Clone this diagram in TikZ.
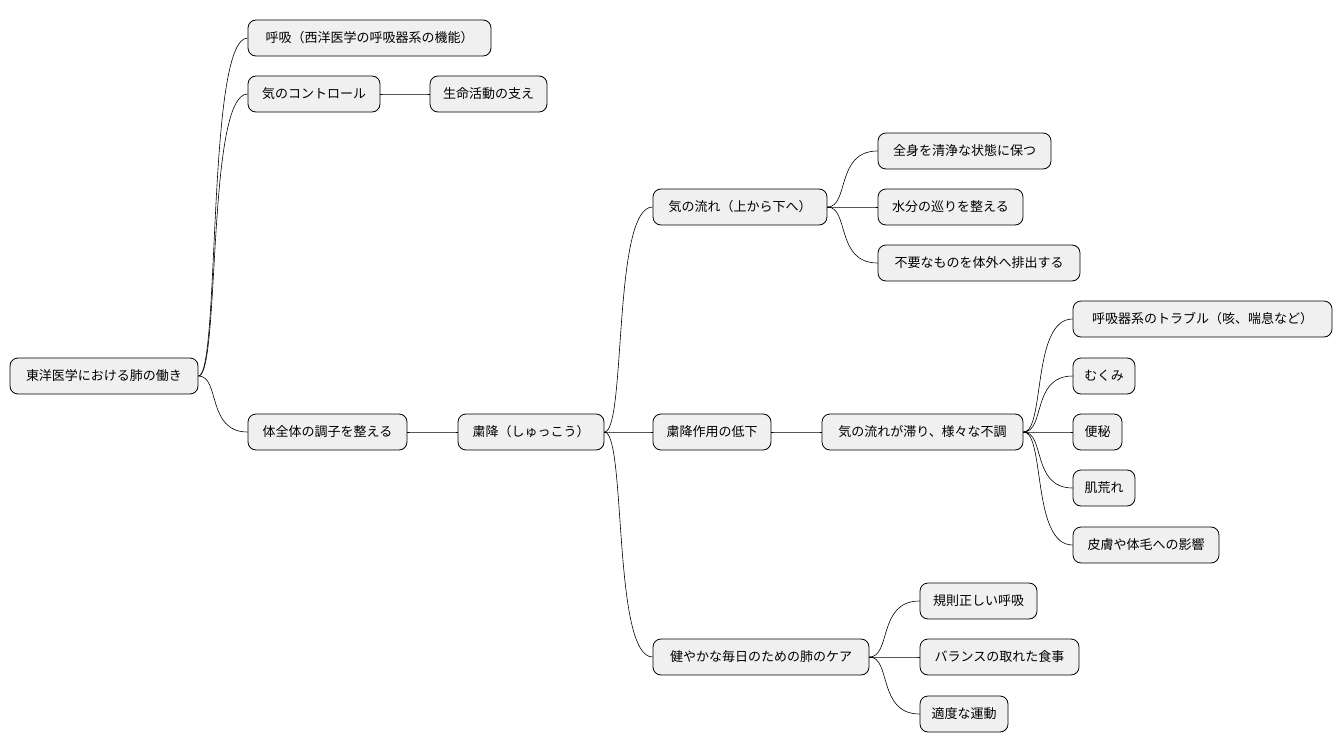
\documentclass[tikz,border=0pt]{standalone}
\usepackage{fontspec}
\setmainfont{Noto Sans CJK JP}
\usetikzlibrary{calc}
\begin{document}
\begin{tikzpicture}[x=1pt,y=-1pt,
  n/.style={draw=black,fill=black!6,rounded corners=8pt,minimum height=36pt,inner sep=0pt,font=\fontsize{13}{15}\selectfont,line width=0.8pt},
  c/.style={line width=0.6pt}]
\useasboundingbox (0,0) rectangle (1342,752);
\newcommand\nd[5]{\node[n,minimum width={#3-#2}] (#1) at ({(#2+#3)/2},#4) {#5};}
\nd{r}{10}{198}{376}{東洋医学における肺の働き}
\nd{a}{248}{491}{38}{呼吸（西洋医学の呼吸器系の機能）}
\nd{b}{248}{380}{94}{気のコントロール}
\nd{b1}{430}{547}{94}{生命活動の支え}
\nd{d}{248}{407}{432}{体全体の調子を整える}
\nd{s}{458}{604}{432}{粛降（しゅっこう）}
\nd{f}{653}{827}{207}{気の流れ（上から下へ）}
\nd{f1}{878}{1051}{151}{全身を清浄な状態に保つ}
\nd{f2}{878}{1023}{207}{水分の巡りを整える}
\nd{f3}{878}{1080}{263}{不要なものを体外へ排出する}
\nd{g}{653}{771}{432}{粛降作用の低下}
\nd{h}{822}{1023}{432}{気の流れが滞り、様々な不調}
\nd{h1}{1073}{1332}{319}{呼吸器系のトラブル（咳、喘息など）}
\nd{h2}{1073}{1135}{376}{むくみ}
\nd{h3}{1073}{1122}{432}{便秘}
\nd{h4}{1073}{1135}{488}{肌荒れ}
\nd{h5}{1073}{1219}{545}{皮膚や体毛への影響}
\nd{k}{653}{869}{657}{健やかな毎日のための肺のケア}
\nd{k1}{920}{1037}{601}{規則正しい呼吸}
\nd{k2}{920}{1079}{657}{バランスの取れた食事}
\nd{k3}{920}{1008}{714}{適度な運動}
\newcommand\cn[2]{\draw[c] (#1.east) .. controls ([xshift=22pt]#1.east) and ($(#1.east |- #2.west)+(8,0)$) .. (#2.west);}
\cn{r}{a}\cn{r}{b}\cn{r}{d}\cn{b}{b1}\cn{d}{s}
\cn{s}{f}\cn{s}{g}\cn{s}{k}
\cn{f}{f1}\cn{f}{f2}\cn{f}{f3}
\cn{g}{h}
\cn{h}{h1}\cn{h}{h2}\cn{h}{h3}\cn{h}{h4}\cn{h}{h5}
\cn{k}{k1}\cn{k}{k2}\cn{k}{k3}
\end{tikzpicture}
\end{document}
